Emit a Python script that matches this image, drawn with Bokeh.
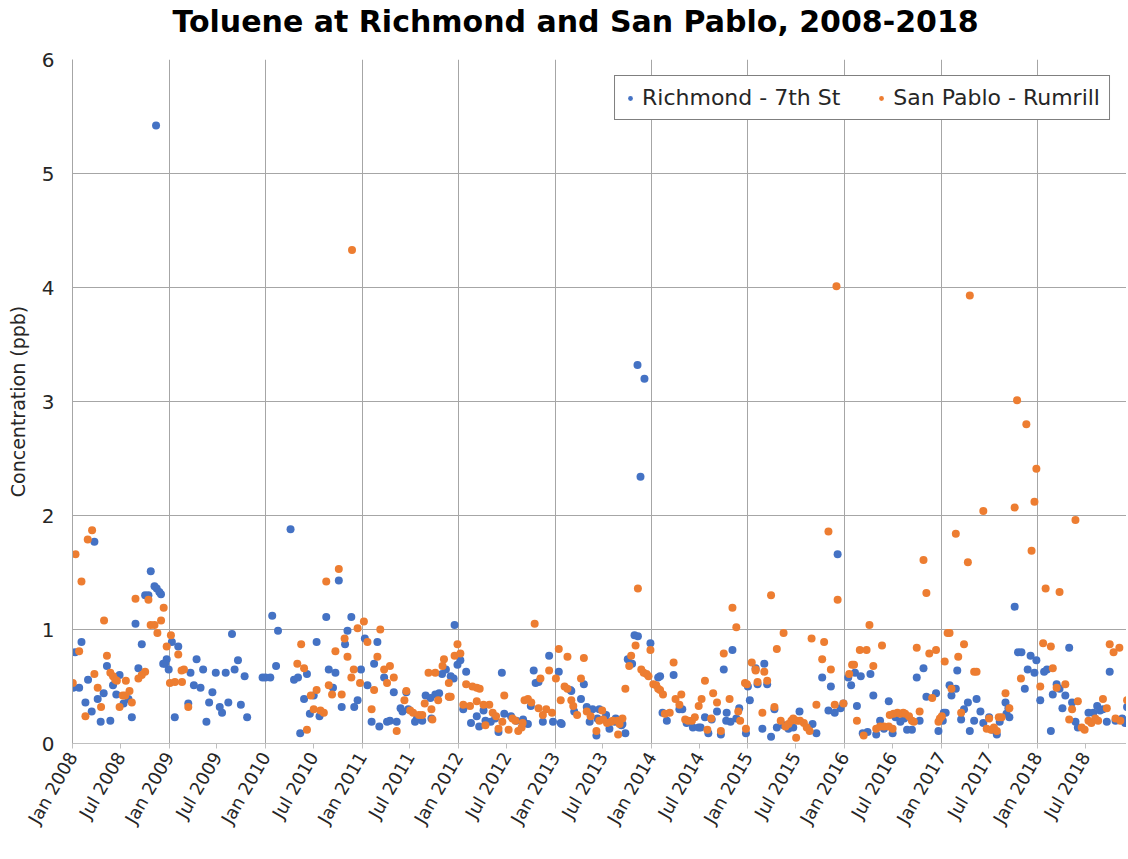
from datetime import datetime, timedelta
from bokeh.plotting import figure
from bokeh.models import FixedTicker, DatetimeTickFormatter, Range1d, Legend, LegendItem, Title
from bokeh.embed import file_html
from bokeh.resources import INLINE
import math

# Time positions are years elapsed since 1 Jan 2008
rich_t = [
    0.227, 0.811, 0.85, 0.873, 0.90, 0.917, 0.753, 0.787, 0.653, 0.093, 0.027, 0.718, 0.357, 0.976, 0.96,
    0.94, 0.683, 0.488, 0.161, 0.007, 0.069, 0.42, 0.323, 0.454, 0.261, 0.58, 0.134, 0.529, 0.199, 0.615,
    0.292, 0.392, 0.866,
    0.997, 1.03, 1.06, 1.096, 1.653, 1.286, 1.715, 1.223, 1.354, 1.485, 1.588, 1.68, 1.784, 1.97, 1.258,
    1.327, 1.45, 1.416, 1.615, 1.745, 1.2, 1.526, 1.55, 1.81, 1.388,
    2.0, 2.05, 2.26, 2.76, 2.07, 2.63, 2.89, 2.13, 2.85, 2.825, 2.53, 2.11, 2.43, 2.656, 2.725, 2.99,
    2.296, 2.337, 2.70, 2.50, 2.40, 2.955, 2.79, 2.92, 2.46, 2.56, 2.36,
    3.03, 3.16, 3.126, 3.23, 3.057, 3.33, 3.46, 3.40, 3.42, 3.48, 3.57, 3.625, 3.55, 3.72, 3.66, 3.71,
    3.76, 3.80, 3.905, 3.83, 3.87, 3.92, 3.95, 3.96, 3.99, 4.02, 3.10, 3.18, 3.26, 3.29, 3.36,
    4.08, 4.45, 4.78, 4.94, 5.04, 4.80, 4.83, 4.05, 4.26, 4.19, 4.13, 4.215, 4.28, 4.335, 4.38, 4.475,
    4.415, 4.545, 4.60, 4.67, 4.685, 4.72, 4.75, 4.875, 4.98, 5.06,
    5.825, 5.86, 5.99, 5.755, 5.80, 5.30, 5.16, 5.17, 6.07, 5.27, 5.20, 5.07, 5.33, 5.39, 5.46, 5.36,
    5.44, 5.53, 5.56, 5.62, 5.63, 5.69, 5.70, 5.565, 5.73, 5.43, 5.856, 5.928, 5.887,
    6.84, 6.75, 6.23, 6.09, 6.29, 6.32, 6.68, 6.78, 6.91, 6.88, 7.02, 7.00, 6.115, 6.16, 6.365, 6.43,
    6.49, 6.51, 6.555, 6.625, 6.59, 6.72, 6.775, 6.82, 6.98,
    7.93, 7.77, 7.86, 7.08, 7.17, 7.10, 7.20, 7.275, 7.15, 7.24, 7.30, 7.37, 7.42, 7.47, 7.535, 7.67,
    7.71, 7.835, 7.90, 7.96, 7.99, 8.04, 8.07,
    8.11, 8.17, 8.27, 8.75, 8.82, 8.85, 8.95, 8.13, 8.30, 8.46, 8.19, 8.24, 8.33, 8.37, 8.41, 8.50,
    8.53, 8.58, 8.62, 8.65, 8.70, 8.78, 8.975, 9.03,
    9.765, 9.17, 9.80, 9.835, 9.93, 9.99, 9.90, 9.97, 10.07, 9.87, 10.03, 9.09, 9.11, 9.155, 9.28, 9.37,
    9.24, 9.05, 9.02, 9.21, 9.345, 9.41, 9.44, 9.30, 9.50, 9.535, 9.58, 9.61, 9.67, 9.70, 9.71, 9.68,
    10.33, 10.75, 10.10, 10.2, 10.23, 10.16, 10.29, 10.36, 10.26, 10.395, 10.42, 10.53, 10.58, 10.62,
    10.65, 10.68, 10.72, 10.81, 10.88, 10.93, 10.91, 10.14,
]
rich_v = [
    1.77, 1.51, 1.38, 1.36, 1.33, 1.31, 1.30, 1.30, 1.05, 0.89, 0.80, 0.87, 0.68, 0.74, 0.70,
    0.70, 0.66, 0.60, 0.56, 0.49, 0.49, 0.51, 0.44, 0.43, 0.39, 0.39, 0.36, 0.35, 0.28, 0.23,
    0.19, 0.20, 5.42,
    0.65, 0.89, 0.23, 0.85, 0.96, 0.74, 0.73, 0.62, 0.65, 0.62, 0.62, 0.65, 0.59, 0.58, 0.51,
    0.49, 0.45, 0.36, 0.36, 0.34, 0.35, 0.32, 0.27, 0.23, 0.19,
    0.58, 0.58, 1.88, 1.43, 1.12, 1.11, 1.11, 0.99, 0.99, 0.87, 0.89, 0.68, 0.61, 0.65, 0.62, 0.65,
    0.56, 0.58, 0.49, 0.42, 0.39, 0.38, 0.32, 0.32, 0.26, 0.24, 0.09,
    0.92, 0.89, 0.70, 0.58, 0.51, 0.45, 0.45, 0.31, 0.28, 0.30, 0.22, 0.20, 0.19, 0.22, 0.42, 0.40,
    0.43, 0.44, 0.41, 0.61, 0.65, 0.59, 0.57, 1.04, 0.69, 0.73, 0.19, 0.15, 0.19, 0.20, 0.19,
    0.63, 0.62, 0.64, 0.77, 0.63, 0.53, 0.54, 0.30, 0.29, 0.24, 0.18, 0.15, 0.20, 0.19, 0.22, 0.26,
    0.10, 0.24, 0.20, 0.21, 0.18, 0.17, 0.33, 0.19, 0.19, 0.18,
    0.95, 0.94, 0.88, 0.74, 0.70, 0.52, 0.47, 0.46, 0.58, 0.39, 0.28, 0.17, 0.32, 0.30, 0.30, 0.19,
    0.22, 0.25, 0.19, 0.19, 0.22, 0.16, 0.17, 0.13, 0.09, 0.07, 3.32, 3.20, 2.34,
    0.82, 0.65, 0.60, 0.59, 0.30, 0.30, 0.28, 0.27, 0.31, 0.22, 0.38, 0.50, 0.27, 0.20, 0.18, 0.14,
    0.14, 0.14, 0.23, 0.21, 0.09, 0.08, 0.20, 0.19, 0.09,
    1.66, 0.58, 0.50, 0.66, 0.70, 0.52, 0.52, 0.30, 0.13, 0.06, 0.14, 0.16, 0.13, 0.14, 0.28, 0.17,
    0.09, 0.29, 0.27, 0.31, 0.35, 0.58, 0.51,
    0.62, 0.59, 0.61, 0.58, 0.66, 0.41, 0.44, 0.33, 0.42, 0.37, 0.09, 0.10, 0.08, 0.20, 0.13, 0.09,
    0.23, 0.19, 0.22, 0.12, 0.12, 0.20, 0.11, 0.27,
    1.20, 0.64, 0.80, 0.80, 0.77, 0.73, 0.65, 0.62, 0.63, 0.48, 0.38, 0.51, 0.42, 0.48, 0.36, 0.39,
    0.30, 0.27, 0.20, 0.21, 0.20, 0.28, 0.18, 0.11, 0.23, 0.12, 0.08, 0.19, 0.36, 0.31, 0.23, 0.26,
    0.84, 0.63, 0.65, 0.52, 0.48, 0.43, 0.42, 0.36, 0.31, 0.19, 0.14, 0.27, 0.27, 0.33,
    0.29, 0.30, 0.19, 0.20, 0.22, 0.32, 0.18, 0.11,
]

sp_t = [
    0.203, 0.158, 0.031, 0.093, 0.653, 0.787, 0.945, 0.327, 0.918, 0.81, 0.85, 0.88, 0.976, 0.069, 0.357,
    0.392, 0.42, 0.443, 0.46, 0.553, 0.227, 0.753, 0.718, 0.683, 0.003, 0.261, 0.591, 0.52, 0.546, 0.615,
    0.488, 0.296, 0.134,
    1.02, 1.01, 1.096, 1.155, 1.13, 1.062, 1.135, 1.2,
    2.897, 2.76, 2.63, 3.02, 2.955, 2.82, 2.37, 2.725, 2.85, 2.33, 2.40, 2.915, 2.89, 2.98, 2.656, 2.53,
    2.69, 2.79, 2.47, 2.50, 2.57, 2.605, 2.43,
    3.057, 3.19, 3.16, 3.23, 3.29, 3.26, 3.33, 3.126, 3.46, 3.44, 3.50, 3.53, 3.59, 3.625, 3.72, 3.73,
    3.65, 3.79, 3.90, 3.92, 3.90, 3.69, 3.76, 3.835, 3.85, 3.96, 3.99, 3.36, 3.10,
    4.02, 4.79, 4.08, 4.145, 4.19, 4.22, 4.475, 4.94, 5.04, 4.85, 5.01, 4.05, 4.12, 4.19, 4.26, 4.32,
    4.355, 4.39, 4.28, 4.455, 4.415, 4.52, 4.56, 4.59, 4.665, 4.62, 4.655, 4.685, 4.72, 4.755, 4.83,
    4.875, 4.91, 4.97, 5.06,
    5.86, 5.836, 5.99, 5.13, 5.30, 5.79, 5.77, 5.27, 5.10, 5.13, 5.895, 5.92, 5.95, 5.97, 6.02, 6.05,
    6.07, 5.73, 5.17, 5.19, 5.23, 5.33, 5.37, 5.49, 5.46, 5.50, 5.54, 5.58, 5.60, 5.65, 5.67, 5.70,
    5.43, 5.655,
    6.84, 6.88, 6.75, 6.23, 6.09, 6.12, 6.555, 6.25, 6.31, 6.29, 6.52, 6.64, 6.68, 6.81, 6.49, 6.90,
    6.92, 6.97, 6.99, 7.04, 7.08, 6.14, 6.19, 6.35, 6.38, 6.42, 6.45, 6.62, 6.58, 6.72, 6.98,
    7.835, 7.24, 7.93, 7.37, 7.30, 7.66, 7.79, 7.77, 7.86, 7.08, 7.17, 7.10, 7.20, 7.15, 7.275, 7.34,
    7.39, 7.42, 7.45, 7.47, 7.51, 7.54, 7.58, 7.61, 7.64, 7.50, 7.71, 7.90, 7.99, 8.08, 8.05, 7.918,
    8.82, 8.85, 8.26, 8.16, 8.23, 8.39, 8.10, 8.30, 8.75, 8.88, 8.95, 9.04, 9.07, 8.91, 8.13, 8.20,
    8.33, 8.37, 8.41, 8.46, 8.50, 8.47, 8.51, 8.55, 8.58, 8.61, 8.63, 8.67, 8.70, 8.72, 8.78, 8.975,
    9.01, 8.99,
    9.30, 9.44, 9.765, 9.97, 9.155, 9.28, 9.94, 9.79, 9.886, 9.99, 10.086, 9.09, 9.24, 9.18, 9.345,
    9.37, 10.06, 9.83, 10.03, 9.11, 9.21, 9.50, 9.475, 9.52, 9.55, 9.58, 9.60, 9.63, 9.67, 9.71,
    10.395, 10.23, 10.14, 10.75, 10.85, 10.79, 10.16, 10.2, 10.29, 10.42, 10.36, 10.33, 10.46, 10.49,
    10.53, 10.56, 10.60, 10.63, 10.68, 10.72, 10.81, 10.86, 10.93,
]
sp_v = [
    1.87, 1.79, 1.66, 1.42, 1.27, 1.26, 1.19, 1.08, 1.08, 1.04, 1.04, 0.97, 0.85, 0.81, 0.77,
    0.62, 0.59, 0.56, 0.55, 0.55, 0.61, 0.63, 0.60, 0.57, 0.53, 0.49, 0.46, 0.42, 0.42, 0.36,
    0.32, 0.32, 0.24,
    0.95, 0.53, 0.78, 0.65, 0.64, 0.54, 0.54, 0.32,
    4.33, 1.53, 1.42, 1.07, 1.01, 0.92, 0.87, 0.81, 0.76, 0.70, 0.66, 0.65, 0.58, 0.53, 0.51, 0.47,
    0.43, 0.43, 0.42, 0.30, 0.29, 0.27, 0.12,
    0.89, 1.00, 0.76, 0.65, 0.68, 0.53, 0.58, 0.47, 0.46, 0.38, 0.29, 0.27, 0.25, 0.25, 0.30, 0.21,
    0.35, 0.38, 0.41, 0.41, 0.53, 0.62, 0.62, 0.68, 0.74, 0.77, 0.87, 0.11, 0.30,
    0.79, 1.05, 0.52, 0.50, 0.49, 0.48, 0.42, 0.64, 0.83, 0.57, 0.57, 0.34, 0.33, 0.37, 0.34, 0.34,
    0.27, 0.24, 0.16, 0.19, 0.13, 0.12, 0.22, 0.20, 0.18, 0.11, 0.14, 0.38, 0.39, 0.36, 0.31,
    0.25, 0.30, 0.27, 0.38,
    1.36, 0.86, 0.82, 0.76, 0.75, 0.77, 0.68, 0.57, 0.50, 0.48, 0.65, 0.62, 0.61, 0.59, 0.52, 0.51,
    0.48, 0.48, 0.38, 0.33, 0.25, 0.28, 0.24, 0.29, 0.20, 0.21, 0.18, 0.19, 0.20, 0.20, 0.17, 0.22,
    0.11, 0.08,
    1.19, 1.02, 0.79, 0.71, 0.47, 0.43, 0.55, 0.39, 0.43, 0.34, 0.39, 0.44, 0.36, 0.39, 0.33, 0.28,
    0.20, 0.53, 0.52, 0.71, 0.65, 0.26, 0.27, 0.21, 0.20, 0.20, 0.23, 0.22, 0.12, 0.11, 0.13,
    1.86, 1.30, 1.26, 0.97, 0.83, 0.92, 0.89, 0.74, 0.65, 0.64, 0.63, 0.54, 0.55, 0.27, 0.32, 0.20,
    0.15, 0.17, 0.20, 0.22, 0.20, 0.20, 0.18, 0.14, 0.11, 0.05, 0.34, 0.34, 0.35, 0.69, 0.61, 4.01,
    1.61, 1.32, 1.04, 0.82, 0.82, 0.86, 0.69, 0.68, 0.84, 0.79, 0.82, 0.72, 0.97, 0.40, 0.20, 0.07,
    0.13, 0.15, 0.15, 0.15, 0.13, 0.25, 0.26, 0.27, 0.26, 0.27, 0.26, 0.24, 0.20, 0.19, 0.28, 0.19,
    0.24, 0.22,
    3.93, 2.04, 2.07, 2.12, 1.84, 1.59, 1.69, 3.01, 2.80, 2.41, 1.36, 0.97, 0.87, 0.76, 0.63,
    0.63, 0.88, 0.57, 0.50, 0.48, 0.27, 0.22, 0.13, 0.12, 0.14, 0.11, 0.23, 0.23, 0.44, 0.31,
    1.96, 1.33, 0.85, 0.87, 0.84, 0.80, 0.66, 0.49, 0.52, 0.37, 0.30, 0.21, 0.14, 0.12,
    0.20, 0.18, 0.22, 0.20, 0.39, 0.31, 0.22, 0.20, 0.38,
]

title_text = "Toluene at Richmond and San Pablo, 2008-2018"
series_names = ["Richmond - 7th St", "San Pablo - Rumrill"]
series_colors = ["#4472C4", "#ED7D31"]
tick_years = list(range(2008, 2019))
y_ticks = [0, 1, 2, 3, 4, 5, 6]

base = datetime(2008, 1, 1)
epoch = datetime(1970, 1, 1)


def to_dt(ts):
    return [base + timedelta(days=t * 365.25) for t in ts]


def ms(d):
    return (d - epoch).total_seconds() * 1000.0


jan_ticks = [ms(datetime(y, 1, 1)) for y in tick_years]
all_ticks = sorted(jan_ticks + [ms(datetime(y, 7, 1)) for y in tick_years])

FONT = "DejaVu Sans"

p = figure(width=1126, height=857, x_axis_type="datetime",
           output_backend="svg", toolbar_location=None,
           x_range=Range1d(ms(datetime(2008, 1, 1)), ms(datetime(2018, 12, 4))),
           y_range=Range1d(0, 6),
           min_border_left=72, min_border_right=0, min_border_top=59, min_border_bottom=114)

p.outline_line_color = None

# empty spacer between the chart title and the plot frame
p.add_layout(Title(text=" ", text_font_size="10px", standoff=8), "above")

p.title.text = title_text
p.title.align = "left"
p.title.offset = 100
p.title.standoff = 0
p.title.text_font = FONT
p.title.text_font_style = "bold"
p.title.text_font_size = "30px"
p.title.text_color = "black"

r1 = p.scatter(to_dt(rich_t), rich_v, size=8, color=series_colors[0], line_color=None)
r2 = p.scatter(to_dt(sp_t), sp_v, size=8, color=series_colors[1], line_color=None)

# x axis
p.xaxis.ticker = FixedTicker(ticks=all_ticks)
p.xaxis.formatter = DatetimeTickFormatter(
    months="%b %Y", days="%b %Y", years="%b %Y", hours="%b %Y", hourmin="%b %Y",
    minutes="%b %Y", minsec="%b %Y", seconds="%b %Y", milliseconds="%b %Y",
    microseconds="%b %Y")
p.xaxis.major_label_orientation = math.pi / 3
p.xaxis.major_label_text_font = FONT
p.xaxis.major_label_text_font_size = "18px"
p.xaxis.major_label_text_color = "#262626"
p.xaxis.axis_line_color = "#BFBFBF"
p.xaxis.major_tick_line_color = "#BFBFBF"
p.xaxis.major_tick_in = 0
p.xaxis.major_tick_out = 5
p.xaxis.minor_tick_line_color = None

# y axis
p.yaxis.ticker = FixedTicker(ticks=y_ticks)
p.yaxis.axis_label = "Concentration (ppb)"
p.yaxis.axis_label_text_font = FONT
p.yaxis.axis_label_text_font_size = "19px"
p.yaxis.axis_label_text_font_style = "normal"
p.yaxis.axis_label_text_color = "#262626"
p.yaxis.axis_label_standoff = 10
p.yaxis.major_label_text_font = FONT
p.yaxis.major_label_text_font_size = "20px"
p.yaxis.major_label_text_color = "#262626"
p.yaxis.axis_line_color = "#A6A6A6"
p.yaxis.major_tick_line_color = None
p.yaxis.minor_tick_line_color = None
p.yaxis.major_label_standoff = 12

# grids
p.xgrid.ticker = FixedTicker(ticks=jan_ticks)
p.xgrid.grid_line_color = "#A6A6A6"
p.ygrid.grid_line_color = "#A6A6A6"

legend = Legend(items=[LegendItem(label=series_names[0], renderers=[r1]),
                       LegendItem(label=series_names[1], renderers=[r2])],
                orientation="horizontal", location="top_right",
                border_line_color="black", border_line_width=1.5,
                label_text_font=FONT, label_text_font_size="22px",
                label_text_color="#262626", glyph_width=12, glyph_height=12,
                spacing=35, padding=9, margin=16, label_standoff=6,
                background_fill_alpha=1)
p.add_layout(legend)

open("out.html", "w").write(file_html(p, INLINE))
